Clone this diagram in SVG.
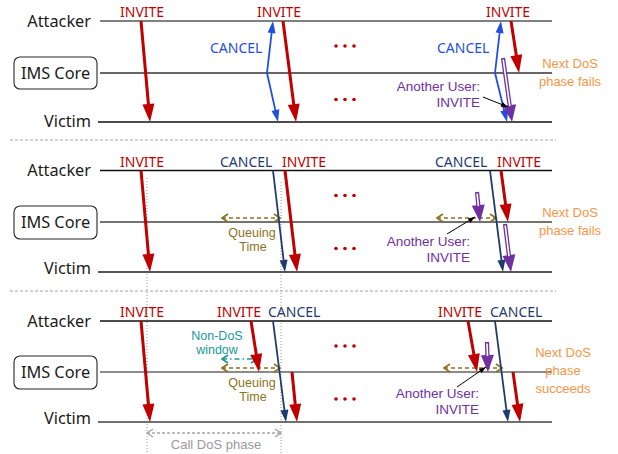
<svg xmlns="http://www.w3.org/2000/svg" width="618" height="454" viewBox="0 0 618 454">
  <style>
    text { font-family: "Noto Sans", "Liberation Sans", sans-serif; }
    .lane { font-size: 16.3px; fill: #1a1a1a; }
    .msg { font-size: 14px; }
    .note { font-family: "Liberation Sans", Arial, sans-serif; font-size: 13px; }
    .tight { font-size: 12.5px; }
    .user { font-size: 13.5px; }
    .red { fill: #C00000; }
    .blue { fill: #1F4FE0; }
    .navy { fill: #1F3A6E; }
    .purple { fill: #7030A0; }
    .olive { fill: #8C7320; }
    .teal { fill: #1A9A9A; }
    .orange { fill: #F79646; }
    .grey { fill: #9A9A9A; }
    .box { fill: #ffffff; stroke: #262626; stroke-width: 1.1; }
    .divider { stroke: #A6A6A6; stroke-width: 1; stroke-dasharray: 3 2; }
    .guide { stroke: #9A9A9A; stroke-width: 1; stroke-dasharray: 1 2; }
    .aRed { stroke: #C00000; stroke-width: 3; marker-end: url(#hRed); }
    .aBlue { stroke: #1F4FE0; stroke-width: 1.8; marker-end: url(#hBlue); }
    .aNavy { stroke: #1F3A6E; stroke-width: 1.8; marker-end: url(#hNavy); }
    .aPurple { stroke: #7030A0; stroke-width: 4.2; marker-end: url(#hPurple); }
    .aPurpleIn { stroke: #ffffff; stroke-width: 1.6; }
    .aBlack { stroke: #000000; stroke-width: 1; marker-end: url(#hBlack); }
    .span { stroke: #8C7320; stroke-width: 1.7; stroke-dasharray: 4 3; marker-start: url(#oOlive); marker-end: url(#oOlive); }
    .spanTeal { stroke: #1A9A9A; stroke-width: 1.7; stroke-dasharray: 5 3 1.5 3; marker-start: url(#oTeal); marker-end: url(#oTeal); }
    .spanGrey { stroke: #A6A6A6; stroke-width: 1.4; stroke-dasharray: 3 2; marker-start: url(#oGrey); marker-end: url(#oGrey); }
  </style>
  <defs>
    <marker id="hRed" markerUnits="userSpaceOnUse" markerWidth="18" markerHeight="12" refX="10" refY="6" orient="auto" overflow="visible">
      <path d="M0,0 L18,6 L0,12 z" fill="#C00000"/>
    </marker>
    <marker id="hBlue" markerUnits="userSpaceOnUse" markerWidth="12" markerHeight="8" refX="6" refY="4" orient="auto" overflow="visible">
      <path d="M0,0 L12,4 L0,8 z" fill="#1F4FE0"/>
    </marker>
    <marker id="hNavy" markerUnits="userSpaceOnUse" markerWidth="12" markerHeight="8" refX="6" refY="4" orient="auto" overflow="visible">
      <path d="M0,0 L12,4 L0,8 z" fill="#1F3A6E"/>
    </marker>
    <marker id="hPurple" markerUnits="userSpaceOnUse" markerWidth="17" markerHeight="13" refX="9" refY="6.5" orient="auto" overflow="visible">
      <path d="M0,0 L17,6.5 L0,13 z" fill="#7030A0"/>
    </marker>
    <marker id="hBlack" markerUnits="userSpaceOnUse" markerWidth="7" markerHeight="5" refX="7" refY="2.5" orient="auto" overflow="visible">
      <path d="M0,0 L7,2.5 L0,5 z" fill="#000000"/>
    </marker>
    <marker id="oOlive" markerUnits="userSpaceOnUse" markerWidth="8" markerHeight="10" refX="6" refY="4" orient="auto-start-reverse" overflow="visible">
      <path d="M0,0 L6,4 L0,8" fill="none" stroke="#8C7320" stroke-width="1.7"/>
    </marker>
    <marker id="oTeal" markerUnits="userSpaceOnUse" markerWidth="8" markerHeight="10" refX="6" refY="4" orient="auto-start-reverse" overflow="visible">
      <path d="M0,0 L6,4 L0,8" fill="none" stroke="#1A9A9A" stroke-width="1.7"/>
    </marker>
    <marker id="oGrey" markerUnits="userSpaceOnUse" markerWidth="8" markerHeight="10" refX="6" refY="4" orient="auto-start-reverse" overflow="visible">
      <path d="M0,0 L6,4 L0,8" fill="none" stroke="#A6A6A6" stroke-width="1.4"/>
    </marker>
  </defs>

  <rect width="618" height="454" fill="#ffffff"/>

  <!-- phase separators and timing guides -->
  <g id="guides">
    <line class="divider" x1="10" y1="140" x2="556" y2="140"/>
    <line class="divider" x1="10" y1="291" x2="556" y2="291"/>
    <line class="guide" x1="147" y1="178" x2="147" y2="454"/>
    <line class="guide" x1="281" y1="182" x2="281" y2="454"/>
  </g>

  <!-- lifelines -->
  <g id="lifelines" fill="none">
    <line x1="100" y1="21" x2="552" y2="21" stroke="#808080" stroke-width="2"/>
    <line x1="100" y1="73" x2="552" y2="73" stroke="#333333" stroke-width="1.4"/>
    <line x1="98" y1="122" x2="552" y2="122" stroke="#111111" stroke-width="1.6"/>
    <line x1="100" y1="170.5" x2="552" y2="170.5" stroke="#111111" stroke-width="1.5"/>
    <line x1="100" y1="222" x2="552" y2="222" stroke="#444444" stroke-width="1.4"/>
    <line x1="98" y1="272" x2="552" y2="272" stroke="#555555" stroke-width="1.8"/>
    <line x1="100" y1="321" x2="552" y2="321" stroke="#111111" stroke-width="1.5"/>
    <line x1="100" y1="372" x2="552" y2="372" stroke="#666666" stroke-width="1.6"/>
    <line x1="98" y1="422" x2="552" y2="422" stroke="#707070" stroke-width="2"/>
  </g>

  <!-- lane labels, phase 1 -->
  <g id="attacker-1"><text class="lane" x="91" y="26.5" text-anchor="end">Attacker</text></g>
  <g id="ims-1">
    <rect class="box" x="14" y="57" width="83" height="32" rx="6"/>
    <text class="lane" x="55.5" y="78.5" text-anchor="middle">IMS Core</text>
  </g>
  <g id="victim-1"><text class="lane" x="91" y="126.5" text-anchor="end">Victim</text></g>

  <!-- lane labels, phase 2 -->
  <g id="attacker-2"><text class="lane" x="91" y="176" text-anchor="end">Attacker</text></g>
  <g id="ims-2">
    <rect class="box" x="14" y="206" width="83" height="33" rx="6"/>
    <text class="lane" x="55.5" y="227.5" text-anchor="middle">IMS Core</text>
  </g>
  <g id="victim-2"><text class="lane" x="91" y="273.5" text-anchor="end">Victim</text></g>

  <!-- lane labels, phase 3 -->
  <g id="attacker-3"><text class="lane" x="91" y="326.5" text-anchor="end">Attacker</text></g>
  <g id="ims-3">
    <rect class="box" x="14" y="356" width="83" height="33" rx="6"/>
    <text class="lane" x="55.5" y="377.5" text-anchor="middle">IMS Core</text>
  </g>
  <g id="victim-3"><text class="lane" x="91" y="424" text-anchor="end">Victim</text></g>

  <!-- message labels and annotations -->
  <g id="labels">
    <!-- phase 1 -->
    <text class="msg red" x="120" y="17">INVITE</text>
    <text class="msg red" x="257" y="17">INVITE</text>
    <text class="msg red" x="486" y="17">INVITE</text>
    <text class="msg blue" x="210" y="53">CANCEL</text>
    <text class="msg blue" x="437" y="53">CANCEL</text>
    <text class="note user purple" x="480" y="90.5" text-anchor="end">Another User:</text>
    <text class="note user purple" x="480" y="106.5" text-anchor="end">INVITE</text>
    <text class="note orange" x="570" y="68" text-anchor="middle">Next DoS</text>
    <text class="note orange" x="570" y="86" text-anchor="middle">phase fails</text>

    <!-- phase 2 -->
    <text class="msg red" x="120" y="167">INVITE</text>
    <text class="msg navy" x="220" y="167">CANCEL</text>
    <text class="msg red" x="282" y="167">INVITE</text>
    <text class="msg navy" x="435" y="167">CANCEL</text>
    <text class="msg red" x="497" y="167">INVITE</text>
    <text class="note tight olive" x="252" y="236.5" text-anchor="middle">Queuing</text>
    <text class="note tight olive" x="253" y="250.5" text-anchor="middle">Time</text>
    <text class="note user purple" x="470" y="246" text-anchor="end">Another User:</text>
    <text class="note user purple" x="470" y="262" text-anchor="end">INVITE</text>
    <text class="note orange" x="570" y="217" text-anchor="middle">Next DoS</text>
    <text class="note orange" x="570" y="235" text-anchor="middle">phase fails</text>

    <!-- phase 3 -->
    <text class="msg red" x="120" y="317">INVITE</text>
    <text class="msg red" x="217" y="317">INVITE</text>
    <text class="msg navy" x="268" y="317">CANCEL</text>
    <text class="msg red" x="438" y="317">INVITE</text>
    <text class="msg navy" x="490" y="317">CANCEL</text>
    <text class="note tight teal" x="217" y="339.5" text-anchor="middle">Non-DoS</text>
    <text class="note tight teal" x="217" y="353.5" text-anchor="middle">window</text>
    <text class="note tight olive" x="252" y="386.5" text-anchor="middle">Queuing</text>
    <text class="note tight olive" x="253" y="400.5" text-anchor="middle">Time</text>
    <text class="note grey" x="216" y="449" text-anchor="middle">Call DoS phase</text>
    <text class="note user purple" x="479" y="397.5" text-anchor="end">Another User:</text>
    <text class="note user purple" x="479" y="413.5" text-anchor="end">INVITE</text>
    <text class="note orange" x="563" y="357" text-anchor="middle">Next DoS</text>
    <text class="note orange" x="563" y="375" text-anchor="middle">phase</text>
    <text class="note orange" x="563" y="393" text-anchor="middle">succeeds</text>
  </g>

  <!-- ellipsis marks between repetitions -->
  <g id="ellipses" fill="#C00000">
    <circle cx="336" cy="46" r="1.8"/><circle cx="345" cy="46" r="1.8"/><circle cx="354" cy="46" r="1.8"/>
    <circle cx="336" cy="99.5" r="1.8"/><circle cx="345" cy="99.5" r="1.8"/><circle cx="354" cy="99.5" r="1.8"/>
    <circle cx="336" cy="195.5" r="1.8"/><circle cx="345" cy="195.5" r="1.8"/><circle cx="354" cy="195.5" r="1.8"/>
    <circle cx="336" cy="248.5" r="1.8"/><circle cx="345" cy="248.5" r="1.8"/><circle cx="354" cy="248.5" r="1.8"/>
    <circle cx="336" cy="346" r="1.8"/><circle cx="345" cy="346" r="1.8"/><circle cx="354" cy="346" r="1.8"/>
    <circle cx="336" cy="399" r="1.8"/><circle cx="345" cy="399" r="1.8"/><circle cx="354" cy="399" r="1.8"/>
  </g>

  <!-- connectors -->
  <g id="connectors" fill="none">
    <!-- timing spans -->
    <line class="span" x1="222" y1="218" x2="280" y2="218"/>
    <line class="span" x1="437" y1="218" x2="496" y2="218"/>
    <line class="span" x1="222" y1="368" x2="280" y2="368"/>
    <line class="span" x1="444" y1="368" x2="502" y2="368"/>
    <line class="spanTeal" x1="222" y1="359" x2="257" y2="359"/>
    <line class="spanGrey" x1="147" y1="433" x2="281" y2="433"/>

    <!-- phase 1 -->
    <line class="aRed" x1="141" y1="21" x2="149.3" y2="114"/>
    <line class="aRed" x1="283" y1="21" x2="295" y2="114.1"/>
    <line class="aRed" x1="511" y1="21" x2="517.8" y2="65.1"/>
    <line class="aBlue" x1="267" y1="73" x2="272.3" y2="27"/>
    <line class="aBlue" x1="267" y1="73" x2="276.7" y2="116.1"/>
    <line class="aBlue" x1="495" y1="73" x2="500.3" y2="27"/>
    <line class="aBlue" x1="495" y1="73" x2="505.6" y2="116.2"/>
    <line class="aPurple" x1="503" y1="58" x2="510.9" y2="114.1"/>
    <line class="aPurpleIn" x1="503.2" y1="59.5" x2="509.8" y2="106.1"/>
    <line class="aBlack" x1="483" y1="97" x2="508" y2="107"/>

    <!-- phase 2 -->
    <line class="aRed" x1="141" y1="170.5" x2="149.3" y2="264"/>
    <line class="aNavy" x1="273" y1="170.5" x2="284.3" y2="266"/>
    <line class="aRed" x1="285" y1="170.5" x2="296.1" y2="264.1"/>
    <line class="aNavy" x1="490" y1="170.5" x2="502.2" y2="266"/>
    <line class="aRed" x1="501" y1="170.5" x2="506.9" y2="214.1"/>
    <line class="aPurple" x1="477" y1="192" x2="479.2" y2="214"/>
    <line class="aPurpleIn" x1="477.1" y1="193.5" x2="478.4" y2="206.1"/>
    <line class="aPurple" x1="505" y1="224" x2="510" y2="264.1"/>
    <line class="aPurpleIn" x1="505.2" y1="225.5" x2="509" y2="256.1"/>
    <line class="aBlack" x1="447" y1="234" x2="475" y2="217"/>

    <!-- phase 3 -->
    <line class="aRed" x1="141" y1="321" x2="149.3" y2="414"/>
    <line class="aRed" x1="251" y1="321" x2="257.8" y2="364.1"/>
    <line class="aNavy" x1="273" y1="321" x2="285.2" y2="416"/>
    <line class="aRed" x1="292" y1="372" x2="296.2" y2="414"/>
    <line class="aRed" x1="468" y1="321" x2="475.6" y2="364.1"/>
    <line class="aPurple" x1="487" y1="342" x2="487.7" y2="364"/>
    <line class="aPurpleIn" x1="487" y1="343.5" x2="487.5" y2="356"/>
    <line class="aNavy" x1="495" y1="321" x2="507.2" y2="416"/>
    <line class="aRed" x1="513" y1="372" x2="518.9" y2="414.1"/>
    <line class="aBlack" x1="457" y1="387" x2="486" y2="367"/>
  </g>
</svg>
